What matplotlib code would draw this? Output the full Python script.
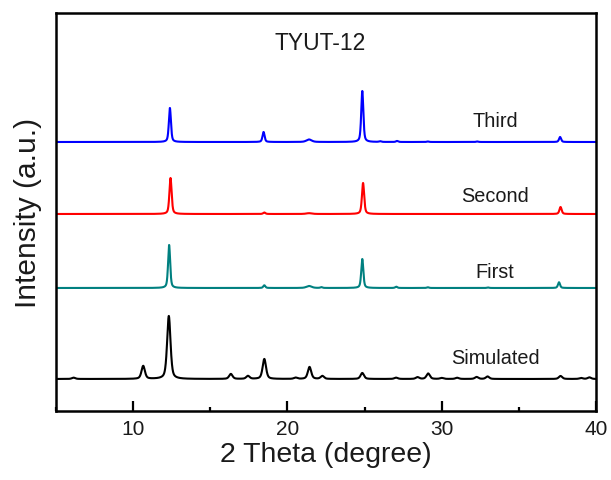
import numpy as np
import matplotlib
matplotlib.use('Agg')
import matplotlib.pyplot as plt
from matplotlib.ticker import MultipleLocator, NullLocator

plt.rcParams['font.family'] = ['Liberation Sans', 'DejaVu Sans']

# peak lists (2theta, intensity in a.u.) for each pattern
sim_pos = [6.14, 10.65, 12.31, 16.33, 17.44, 18.50, 20.53, 21.43, 22.26, 24.85,
           27.04, 28.43, 29.12, 30.00, 31.00, 32.26, 32.97, 37.70, 39.03, 39.57]
sim_int = [1.3, 13, 63, 5, 3, 20, 1.3, 12, 3, 6,
           1.3, 1.8, 5.5, 1.0, 1.2, 2.0, 2.5, 3.0, 1.0, 1.6]

first_pos = [12.33, 18.50, 21.40, 22.20, 24.85, 27.05, 29.10, 33.00, 37.60]
first_int = [43, 2.7, 2.0, 0.8, 29, 1.3, 0.7, 0.5, 5.7]

second_pos = [12.42, 18.50, 21.40, 24.90, 37.70]
second_int = [36, 1.5, 0.8, 31, 7]

third_pos = [12.38, 18.45, 21.40, 24.85, 26.00, 27.10, 29.10, 32.30, 37.67]
third_int = [34, 10, 2.5, 51, 0.7, 1.0, 0.5, 0.5, 5]

names = ['Simulated', 'First', 'Second', 'Third']
colors = ['black', '#008080', '#ff0000', '#0000ff']
offsets = [32, 123, 197, 269]
fwhm = [0.26, 0.16, 0.17, 0.16]


def pattern(tt, pos, inten, w, eta=0.5):
    # pseudo-Voigt sum for a list of reflections
    y = np.zeros_like(tt)
    for p, h in zip(pos, inten):
        ww = w * 2.5 if h < 3 and abs(p - 21.4) < 0.1 else w
        d = (tt - p) / (ww / 2)
        lor = 1.0 / (1 + d ** 2)
        gau = np.exp(-np.log(2) * d ** 2)
        y += h * (eta * lor + (1 - eta) * gau)
    return y


tt = np.linspace(5, 40, 7001)
peaks = [(sim_pos, sim_int), (first_pos, first_int),
         (second_pos, second_int), (third_pos, third_int)]

fig = plt.figure(figsize=(6.11, 4.81), dpi=100)
ax = fig.add_axes([0.0917, 0.1435, 0.8838, 0.8274])

for (pos, inten), c, off, w in zip(peaks, colors, offsets, fwhm):
    ax.plot(tt, pattern(tt, pos, inten, w) + off, color=c, lw=1.5)

# labels next to each trace
label_y = [359, 273, 197, 122]
for name, yy in zip(names, label_y):
    ax.text(495, 481 - yy, name, fontsize=14.3, ha='center', va='center',
            transform=None, color='#1a1a1a')
ax.text(320, 481 - 44, 'TYUT-12', fontsize=16.5, ha='center', va='center',
        transform=None, color='#1a1a1a')

ax.set_xlim(5, 40)
ax.set_ylim(0, 398)
ax.xaxis.set_major_locator(MultipleLocator(10))
ax.xaxis.set_minor_locator(MultipleLocator(5))
ax.yaxis.set_major_locator(NullLocator())
ax.tick_params(axis='x', which='major', direction='in', length=7, width=1.6,
               labelsize=15, pad=6, labelcolor='#1a1a1a')
ax.tick_params(axis='x', which='minor', direction='in', length=3, width=1.6)
for s in ax.spines.values():
    s.set_linewidth(1.8)

ax.set_xlabel('2 Theta (degree)', fontsize=20.5, labelpad=2, color='#1a1a1a')
ax.set_ylabel('Intensity (a.u.)', fontsize=21.5, labelpad=10, color='#1a1a1a')

fig.savefig('out.png', dpi=100)
